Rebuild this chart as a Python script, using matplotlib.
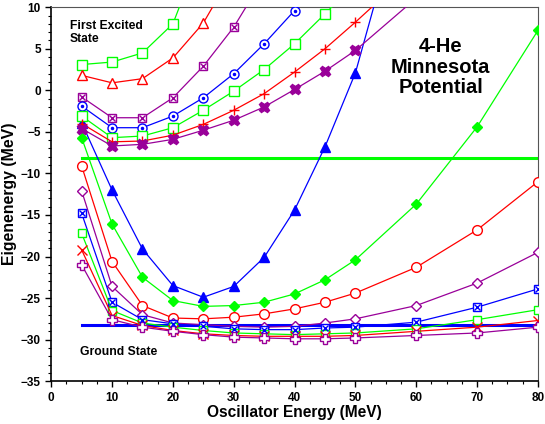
import matplotlib
matplotlib.use('agg')
import matplotlib.pyplot as plt
from matplotlib.ticker import MultipleLocator

plt.rcParams['font.family'] = ['Liberation Sans', 'DejaVu Sans']
plt.rcParams['font.weight'] = 'bold'

# oscillator energies (MeV)
hw = [5, 10, 15, 20, 25, 30, 35, 40, 45, 50, 60, 70, 80]

# ground state curves
gs_blue_tri = [-3.9, -12.0, -19.1, -23.5, -24.9, -23.6, -20.1, -14.4, -6.8, 2.1, 28.4]
gs_green_dia = [-5.7, -16.1, -22.5, -25.3, -26.0, -25.9, -25.5, -24.5, -22.8, -20.4, -13.7, -4.4, 7.2]
gs_red_circ = [-9.1, -20.6, -25.9, -27.4, -27.5, -27.3, -26.9, -26.3, -25.5, -24.4, -21.3, -16.8, -11.0]
gs_purple_dia = [-12.1, -23.6, -27.0, -28.0, -28.2, -28.4, -28.5, -28.4, -28.0, -27.5, -25.9, -23.2, -19.5]
gs_blue_boxx = [-14.8, -25.5, -27.6, -28.1, -28.4, -28.7, -28.8, -28.8, -28.6, -28.5, -27.9, -26.1, -23.9]
gs_green_sq = [-17.2, -26.5, -28.0, -28.5, -28.9, -29.2, -29.3, -29.4, -29.3, -29.2, -28.7, -27.6, -26.4]
gs_red_x = [-19.2, -27.1, -28.3, -28.9, -29.3, -29.5, -29.6, -29.6, -29.6, -29.5, -29.0, -28.5, -27.7]
gs_purple_plus = [-21.0, -27.6, -28.5, -29.0, -29.4, -29.7, -29.8, -29.9, -29.9, -29.8, -29.5, -29.2, -28.5]

# first excited state curves
ex_green_sq1 = [3.1, 3.4, 4.5, 8.0, 17.5]
ex_red_tri = [1.8, 0.9, 1.4, 3.9, 8.1, 14.4]
ex_purple_boxx = [-0.8, -3.3, -3.3, -0.9, 2.9, 7.6, 13.6]
ex_blue_dotc = [-1.9, -4.5, -4.5, -3.1, -0.9, 2.0, 5.6, 9.6, 13.6]
ex_green_sq2 = [-3.1, -5.7, -5.5, -4.5, -2.4, -0.1, 2.5, 5.6, 9.2, 12.9]
ex_red_plus = [-4.0, -6.2, -6.1, -5.4, -4.1, -2.4, -0.4, 2.2, 5.0, 8.2, 14.9]
ex_purple_X = [-4.6, -6.7, -6.5, -5.9, -4.8, -3.6, -2.0, 0.1, 2.3, 4.8, 11.1]

# experimental levels
exp_hw = [5, 80]
exp_ground = -28.3
exp_excited = -8.1

GREEN = '#00ff00'
RED = '#ff0000'
BLUE = '#0000ff'
PURPLE = '#990099'

fig = plt.figure(figsize=(5.45, 4.24), dpi=100)
ax = fig.add_axes([0.094, 0.101, 0.893, 0.882])

ax.plot(exp_hw, [exp_excited, exp_excited], color=GREEN, lw=2.2, zorder=1)
ax.plot(exp_hw, [exp_ground, exp_ground], color=BLUE, lw=2.2, zorder=1)


def curve(y, color, marker, filled=False, ms=6, inner=None, inner_ms=5):
    x = hw[:len(y)]
    ax.plot(x, y, color=color, lw=0.9, marker=marker, ms=ms,
            mfc=color if filled else 'white', mec=color, mew=1.0, zorder=3)
    if inner is not None:
        ax.plot(x, y, ls='none', marker=inner, ms=inner_ms, color=color, mew=1.0, zorder=4)


curve(gs_blue_tri, BLUE, '^', filled=True, ms=7)
curve(gs_green_dia, GREEN, 'D', filled=True, ms=5.5)
curve(gs_red_circ, RED, 'o', ms=7)
curve(gs_purple_dia, PURPLE, 'D', ms=5)
curve(gs_blue_boxx, BLUE, 's', ms=6, inner='x', inner_ms=4)
curve(gs_green_sq, GREEN, 's', ms=6)
curve(gs_red_x, RED, 'x', ms=7)
curve(gs_purple_plus, PURPLE, 'P', ms=7.5)

curve(ex_green_sq1, GREEN, 's', ms=7)
curve(ex_red_tri, RED, '^', ms=7)
curve(ex_purple_boxx, PURPLE, 's', ms=6, inner='x', inner_ms=4)
curve(ex_blue_dotc, BLUE, 'o', ms=6.5, inner='.', inner_ms=3)
curve(ex_green_sq2, GREEN, 's', ms=6.5)
curve(ex_red_plus, RED, '+', ms=7)
curve(ex_purple_X, PURPLE, 'X', filled=True, ms=7.5)

ax.set_xlim(0, 80)
ax.set_ylim(-35, 10)
ax.xaxis.set_major_locator(MultipleLocator(10))
ax.xaxis.set_minor_locator(MultipleLocator(2.5))
ax.yaxis.set_major_locator(MultipleLocator(5))
ax.yaxis.set_minor_locator(MultipleLocator(1))
ax.tick_params(which='both', direction='out', top=False, right=False, labelsize=8.5)
ax.tick_params(which='major', length=4, width=1)
ax.tick_params(which='minor', length=2, width=0.8)
for lab in ax.get_xticklabels() + ax.get_yticklabels():
    lab.set_fontweight('bold')
for side in ['top', 'right']:
    ax.spines[side].set_color('#555555')
for side in ['left', 'bottom']:
    ax.spines[side].set_linewidth(1.2)

ax.set_xlabel('Oscillator Energy (MeV)', fontsize=11.2, fontweight='bold', labelpad=1)
ax.set_ylabel('Eigenenergy (MeV)', fontsize=11.4, fontweight='bold')
ax.yaxis.set_label_coords(-0.07, 0.5)

ax.text(3.1, 8.5, 'First Excited\nState', fontsize=8.7, fontweight='bold', va='top', ha='left',
        linespacing=1.15)
ax.text(4.7, -31.5, 'Ground State', fontsize=8.7, fontweight='bold', va='center', ha='left')
ax.text(64, 2.8, '4-He\nMinnesota\nPotential', fontsize=14.5, fontweight='bold',
        ha='center', va='center', linespacing=1.08)

plt.savefig('out.png', dpi=100)
plt.close()
